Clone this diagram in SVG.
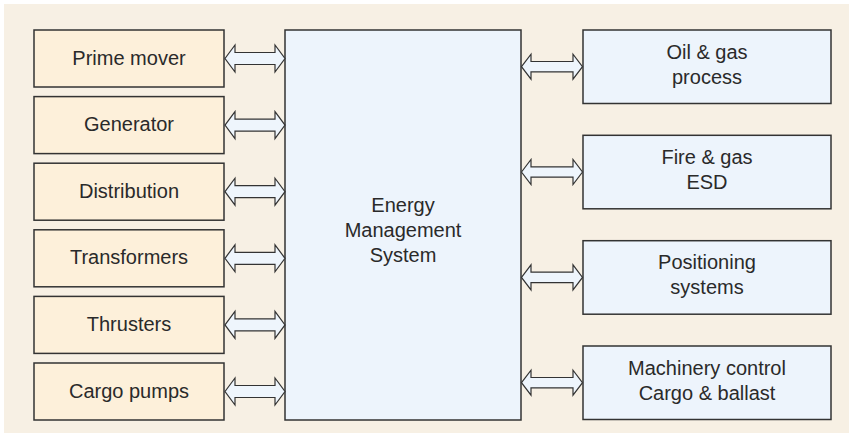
<svg xmlns="http://www.w3.org/2000/svg" width="849" height="438" viewBox="0 0 849 438">
<defs>
<style>
.bg{fill:#f7f0e4}
.lb{fill:#fdf0da;stroke:#333;stroke-width:1.5}
.rb{fill:#edf4fc;stroke:#333;stroke-width:1.5}
.ar{fill:#eef5fc;stroke:#333;stroke-width:1.2;stroke-linejoin:miter}
text{font-family:"Liberation Sans",Arial,sans-serif;font-size:20px;fill:#2a2a2a;text-anchor:middle}
</style>
</defs>
<rect class="bg" x="4" y="4" width="845" height="429"/>
<g id="prime-mover"><rect class="lb" x="34" y="30" width="190" height="57"/><text x="129" y="64.5">Prime mover</text></g>
<g id="generator"><rect class="lb" x="34" y="96.6" width="190" height="57"/><text x="129" y="131.1">Generator</text></g>
<g id="distribution"><rect class="lb" x="34" y="163.2" width="190" height="57"/><text x="129" y="197.7">Distribution</text></g>
<g id="transformers"><rect class="lb" x="34" y="229.8" width="190" height="57"/><text x="129" y="264.3">Transformers</text></g>
<g id="thrusters"><rect class="lb" x="34" y="296.4" width="190" height="57"/><text x="129" y="330.9">Thrusters</text></g>
<g id="cargo-pumps"><rect class="lb" x="34" y="363" width="190" height="57"/><text x="129" y="397.5">Cargo pumps</text></g>
<g id="ems"><rect class="rb" x="285" y="30" width="236" height="390"/><text x="403" y="212">Energy</text><text x="403" y="237">Management</text><text x="403" y="262">System</text></g>
<g id="oil-gas"><rect class="rb" x="583" y="30" width="248" height="73.5"/><text x="707" y="58.5">Oil &amp; gas</text><text x="707" y="83.5">process</text></g>
<g id="fire-gas"><rect class="rb" x="583" y="135.3" width="248" height="73.5"/><text x="707" y="163.8">Fire &amp; gas</text><text x="707" y="188.8">ESD</text></g>
<g id="positioning"><rect class="rb" x="583" y="240.7" width="248" height="73.5"/><text x="707" y="269.2">Positioning</text><text x="707" y="294.2">systems</text></g>
<g id="machinery"><rect class="rb" x="583" y="346" width="248" height="73.5"/><text x="707" y="374.5">Machinery control</text><text x="707" y="399.5">Cargo &amp; ballast</text></g>
<g id="connectors">
<path class="ar" transform="translate(0,58.5)" d="M225,0 L235,-13.5 L235,-6 L275,-6 L275,-13.5 L285,0 L275,13.5 L275,6 L235,6 L235,13.5 Z"/>
<path class="ar" transform="translate(0,125.1)" d="M225,0 L235,-13.5 L235,-6 L275,-6 L275,-13.5 L285,0 L275,13.5 L275,6 L235,6 L235,13.5 Z"/>
<path class="ar" transform="translate(0,191.7)" d="M225,0 L235,-13.5 L235,-6 L275,-6 L275,-13.5 L285,0 L275,13.5 L275,6 L235,6 L235,13.5 Z"/>
<path class="ar" transform="translate(0,258.3)" d="M225,0 L235,-13.5 L235,-6 L275,-6 L275,-13.5 L285,0 L275,13.5 L275,6 L235,6 L235,13.5 Z"/>
<path class="ar" transform="translate(0,324.9)" d="M225,0 L235,-13.5 L235,-6 L275,-6 L275,-13.5 L285,0 L275,13.5 L275,6 L235,6 L235,13.5 Z"/>
<path class="ar" transform="translate(0,391.5)" d="M225,0 L235,-13.5 L235,-6 L275,-6 L275,-13.5 L285,0 L275,13.5 L275,6 L235,6 L235,13.5 Z"/>
<path class="ar" transform="translate(0,66.7)" d="M521.5,0 L531,-12.5 L531,-5.2 L573,-5.2 L573,-12.5 L582.5,0 L573,12.5 L573,5.2 L531,5.2 L531,12.5 Z"/>
<path class="ar" transform="translate(0,172)" d="M521.5,0 L531,-12.5 L531,-5.2 L573,-5.2 L573,-12.5 L582.5,0 L573,12.5 L573,5.2 L531,5.2 L531,12.5 Z"/>
<path class="ar" transform="translate(0,277.4)" d="M521.5,0 L531,-12.5 L531,-5.2 L573,-5.2 L573,-12.5 L582.5,0 L573,12.5 L573,5.2 L531,5.2 L531,12.5 Z"/>
<path class="ar" transform="translate(0,382.7)" d="M521.5,0 L531,-12.5 L531,-5.2 L573,-5.2 L573,-12.5 L582.5,0 L573,12.5 L573,5.2 L531,5.2 L531,12.5 Z"/>
</g>
</svg>
